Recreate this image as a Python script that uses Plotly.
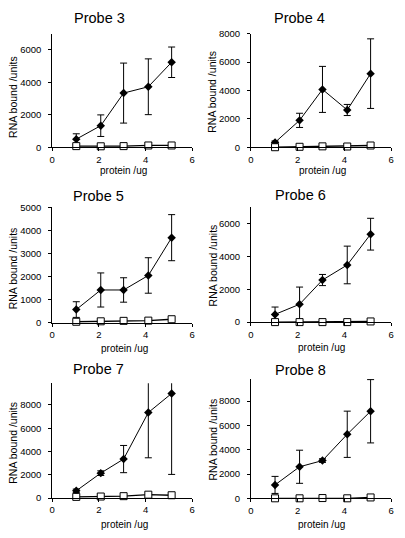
import plotly.graph_objects as go

# ---------------- data ----------------
protein_ug = [1.03, 2.08, 3.06, 4.12, 5.12]

probe_names = ["Probe 3", "Probe 4", "Probe 5", "Probe 6", "Probe 7", "Probe 8"]

probe3_bound = [500, 1330, 3340, 3730, 5240]
probe3_err = [330, 665, 1850, 1720, 940]
probe3_ctrl = [70, 60, 70, 110, 110]

probe4_bound = [350, 1900, 4080, 2630, 5190]
probe4_err = [100, 500, 1620, 390, 2450]
probe4_ctrl = [10, 40, 70, 60, 130]

probe5_bound = [570, 1420, 1420, 2050, 3690]
probe5_err = [340, 740, 530, 770, 1000]
probe5_ctrl = [40, 60, 80, 90, 150]

probe6_bound = [470, 1090, 2570, 3490, 5370]
probe6_err = [450, 1050, 340, 1150, 970]
probe6_ctrl = [0, 0, 0, 0, 40]

probe7_bound = [620, 2140, 3350, 7350, 8990]
probe7_err = [150, 200, 1170, 3890, 6960]
probe7_ctrl = [100, 130, 160, 290, 240]

probe8_bound = [1110, 2600, 3110, 5270, 7160]
probe8_err = [700, 1360, 150, 1900, 2600]
probe8_ctrl = [10, 10, 30, 10, 80]

bound_sets = [probe3_bound, probe4_bound, probe5_bound, probe6_bound, probe7_bound, probe8_bound]
err_sets = [probe3_err, probe4_err, probe5_err, probe6_err, probe7_err, probe8_err]
ctrl_sets = [probe3_ctrl, probe4_ctrl, probe5_ctrl, probe6_ctrl, probe7_ctrl, probe8_ctrl]

y_max = [7000, 8000, 5000, 7000, 9880, 9850]
y_ticks = [
    [0, 2000, 4000, 6000],
    [0, 2000, 4000, 6000, 8000],
    [0, 1000, 2000, 3000, 4000, 5000],
    [0, 2000, 4000, 6000],
    [0, 2000, 4000, 6000, 8000],
    [0, 2000, 4000, 6000, 8000],
]
x_ticks = [0, 2, 4, 6]

# ---------------- layout geometry (pixels) ----------------
W, H = 405, 538
# (x_left, x_right, y_top, y_bottom) of each plot area
boxes = [
    (50, 192, 28.3, 144.2),
    (251.7, 394, 28.3, 144.3),
    (50, 192, 205.7, 323.3),
    (251.7, 394, 205.7, 322.7),
    (50, 192, 385, 502.3),
    (251.7, 394, 380.3, 502.7),
]
title_pos = [(98, 12), (300.5, 12.5), (97, 193.5), (301.7, 192.5), (97, 370.5), (301.7, 372)]
xlab_pos = [(122, 168), (324, 168), (123, 349.5), (323, 349), (123, 529), (323, 529)]
ylab_pos = [(10, 93), (212.7, 88), (10, 268), (213, 265), (10, 446), (212.7, 443)]

FONT = "Liberation Sans, Arial, sans-serif"

fig = go.Figure()
annotations = []
layout = {}

for i in range(6):
    n = "" if i == 0 else str(i + 1)
    xa, ya = "x" + n, "y" + n
    x0, x1, yt, yb = boxes[i]
    clip = (i != 4)
    fig.add_trace(go.Scatter(
        x=protein_ug, y=bound_sets[i], xaxis=xa, yaxis=ya, mode="lines+markers",
        line=dict(color="black", width=1),
        marker=dict(symbol="diamond", size=6.5, color="black"),
        error_y=dict(type="data", array=err_sets[i], color="black", thickness=1, width=3.5),
        cliponaxis=not clip, showlegend=False,
    ))
    fig.add_trace(go.Scatter(
        x=protein_ug, y=ctrl_sets[i], xaxis=xa, yaxis=ya, mode="lines+markers",
        line=dict(color="black", width=1.3),
        marker=dict(symbol="square", size=7, color="white", line=dict(color="black", width=1)),
        cliponaxis=False, showlegend=False,
    ))
    layout["xaxis" + n] = dict(
        domain=[x0 / W, x1 / W], anchor=ya, range=[0, 6], tickvals=x_ticks,
        showline=True, linecolor="black", linewidth=1, ticks="outside", ticklen=3,
        tickcolor="black", showgrid=False, zeroline=False,
        tickfont=dict(family=FONT, size=9.5, color="black"), ticklabelstandoff=0,
    )
    layout["yaxis" + n] = dict(
        domain=[1 - yb / H, 1 - yt / H], anchor=xa, range=[0, y_max[i]], tickvals=y_ticks[i],
        showline=True, linecolor="black", linewidth=1, ticks="outside", ticklen=3,
        tickcolor="black", showgrid=False, zeroline=False,
        tickfont=dict(family=FONT, size=9.5, color="black"), ticklabelstandoff=5,
    )
    tx, ty = title_pos[i]
    annotations.append(dict(text=probe_names[i], x=tx / W, y=1 - ty / H, xref="paper", yref="paper",
                            showarrow=False, xanchor="center", yanchor="middle",
                            font=dict(family=FONT, size=14.5, color="black")))
    lx, ly = xlab_pos[i]
    annotations.append(dict(text="protein /ug", x=lx / W, y=1 - ly / H, xref="paper", yref="paper",
                            showarrow=False, xanchor="center", yanchor="middle",
                            font=dict(family=FONT, size=10, color="black")))
    vx, vy = ylab_pos[i]
    annotations.append(dict(text="RNA bound /units", x=vx / W, y=1 - vy / H, xref="paper", yref="paper",
                            showarrow=False, xanchor="center", yanchor="middle", textangle=-90,
                            font=dict(family=FONT, size=10.5, color="black")))

fig.update_layout(
    width=W, height=H, margin=dict(l=0, r=0, t=0, b=0),
    paper_bgcolor="white", plot_bgcolor="white",
    annotations=annotations, **layout,
)

fig.write_html(
    "out.html",
    config={"displayModeBar": False},
    post_script="document.body.style.margin='0px';document.body.style.overflow='hidden';",
)
